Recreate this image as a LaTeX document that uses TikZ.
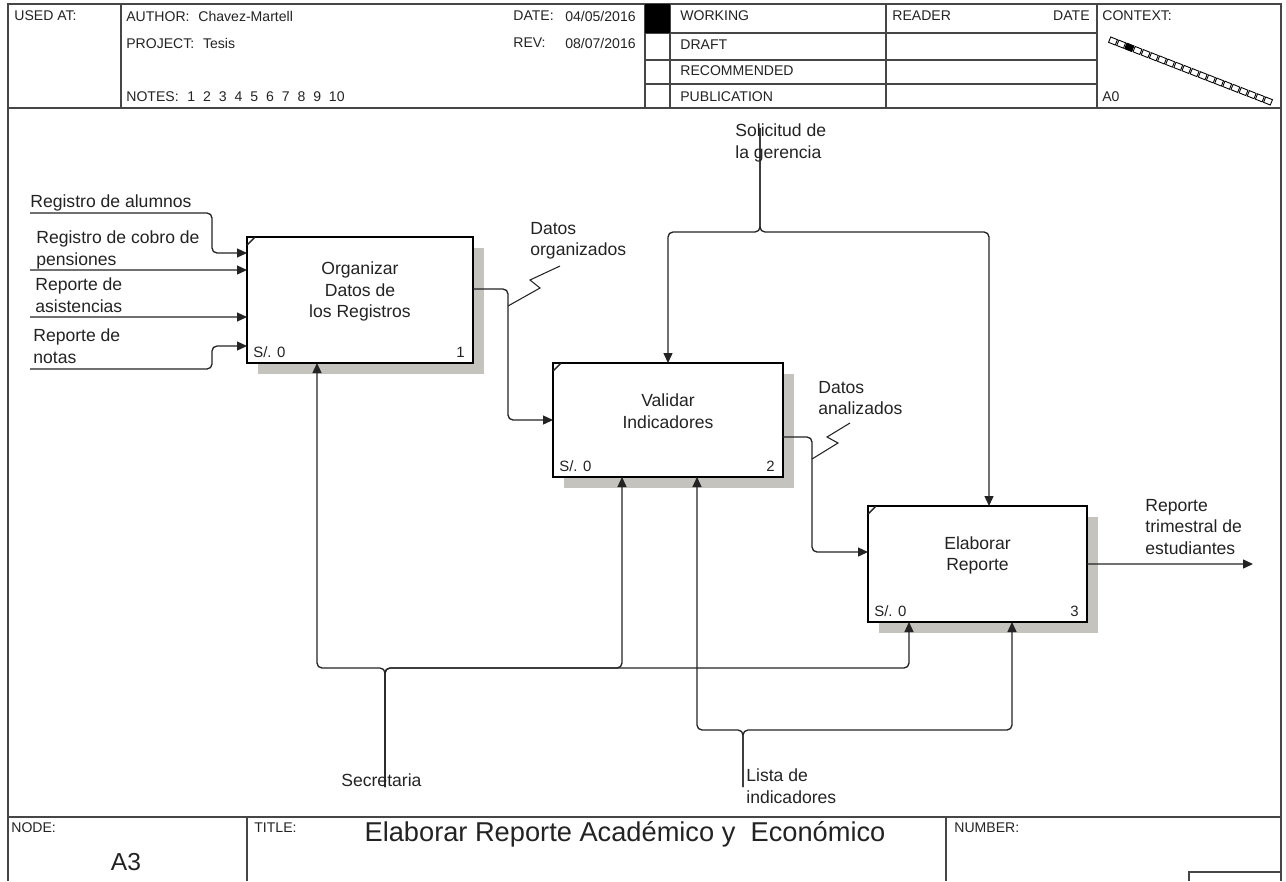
\documentclass[tikz,border=0pt]{standalone}
\usepackage{fontspec}
\setmainfont{Liberation Sans}
\usetikzlibrary{arrows.meta,calc,shadows}
\definecolor{shadowgray}{RGB}{196,195,190}
\definecolor{ink}{RGB}{35,35,35}
\definecolor{rule}{RGB}{70,70,70}
\begin{document}
\begin{tikzpicture}[x=0.2mm,y=-0.2mm,
  frame/.style={draw=rule, line width=1pt},
  cell/.style={draw=rule, line width=0.8pt},
  hdr/.style={font=\fontsize{8}{9.6}\selectfont, inner sep=0, anchor=west, text=ink},
  hdrr/.style={hdr, anchor=east},
  lbl/.style={font=\fontsize{10}{12.2}\selectfont, align=left, inner sep=0, anchor=west, text=ink},
  ptext/.style={font=\fontsize{10}{12.2}\selectfont, align=center, inner sep=0, text=ink},
  ptag/.style={font=\fontsize{8.5}{10}\selectfont, inner sep=0, text=ink},
  proc/.style={draw=black, line width=1.2pt, fill=white, inner sep=0, outer sep=0,
    drop shadow={shadow xshift=2.2mm, shadow yshift=-2.2mm, fill=shadowgray, opacity=1}},
  flow/.style={draw=ink, line width=0.75pt, rounded corners=1mm,
    -{Triangle[length=2mm,width=1.8mm]}},
  squig/.style={draw=ink, line width=0.6pt},
  ctxsq/.style={draw=black, line width=0.5pt, fill=white, inner sep=0,
    minimum width=1.45mm, minimum height=1.15mm, rotate=-22},
]
\useasboundingbox (0,0) rectangle (1286,881);

% ---------- outer frame and form rules ----------
\draw[frame] (8,881) -- (8,4) -- (1281,4) -- (1281,881);
\draw[frame] (8,108) -- (1281,108);
\draw[frame] (8,817) -- (1281,817);
\foreach \cx in {121,645,670,886,1097} \draw[cell] (\cx,4) -- (\cx,108);
\foreach \cy in {33,60,84} \draw[cell] (645,\cy) -- (1097,\cy);
\fill[black] (645,4) rectangle (670,33);
\draw[cell] (247,817) -- (247,881);
\draw[cell] (946,817) -- (946,881);
\draw[cell] (1189,881) -- (1189,872) -- (1281,872);

% ---------- header texts ----------
\node[hdr] (usedat) at (14,16) {USED AT:};
\node[hdr] (author) at (126,16) {AUTHOR:\hspace{5pt}Chavez-Martell};
\node[hdr] (project) at (126,43) {PROJECT:\hspace{5pt}Tesis};
\node[hdr] (notes) at (126,97) {NOTES:\hspace{5pt}1\hspace{4.5pt}2\hspace{4.5pt}3\hspace{4.5pt}4\hspace{4.5pt}5\hspace{4.5pt}6\hspace{4.5pt}7\hspace{4.5pt}8\hspace{4.5pt}9\hspace{4.5pt}10};
\node[hdr] (datel) at (513,16) {DATE:};
\node[hdrr] (datev) at (636,16) {04/05/2016};
\node[hdr] (revl) at (513,43) {REV:};
\node[hdrr] (revv) at (636,43) {08/07/2016};
\node[hdr] (working) at (680,16) {WORKING};
\node[hdr] (draft) at (680,45) {DRAFT};
\node[hdr] (recom) at (680,71) {RECOMMENDED};
\node[hdr] (public) at (680,97) {PUBLICATION};
\node[hdr] (reader) at (892,16) {READER};
\node[hdrr] (rdate) at (1090,16) {DATE};
\node[hdr] (context) at (1102,16) {CONTEXT:};
\node[hdr] (a0) at (1102,97) {A0};

% context chain of diagram squares
\foreach \i in {0,...,19} {
  \node[ctxsq] (sq\i) at ({1113+155*\i/19},{41+60*\i/19}) {};
}
\node[ctxsq, fill=black] (sqcur) at ({1113+155*2/19},{41+60*2/19}) {};

% ---------- footer texts ----------
\node[hdr] (nodel) at (11,828) {NODE:};
\node[font=\fontsize{14}{16}\selectfont, inner sep=0, text=ink] (nodev) at (126,862) {A3};
\node[hdr] (titlel) at (254,828) {TITLE:};
\node[font=\fontsize{15.5}{18}\selectfont, inner sep=0, text=ink] (titlev) at (625,834) {Elaborar Reporte Académico y\ \ Económico};
\node[hdr] (numberl) at (954,828) {NUMBER:};

% ---------- activity boxes ----------
\node[proc, minimum width=45.2mm, minimum height=25.2mm] (b1) at (360,300) {};
\node[proc, minimum width=46mm, minimum height=22.8mm] (b2) at (668,420) {};
\node[proc, minimum width=43.8mm, minimum height=23.2mm] (b3) at (977.5,564) {};

\node[ptext] (b1-t) at (360,291.5) {Organizar\\Datos de\\los Registros};
\node[ptext] (b2-t) at (668,411) {Validar\\Indicadores};
\node[ptext] (b3-t) at (977.5,555.5) {Elaborar\\Reporte};

\foreach \b/\n in {b1/1,b2/2,b3/3} {
  \draw[ink, line width=0.8pt] ($(\b.north west)+(0,8)$) -- ($(\b.north west)+(8,0)$);
  \node[ptag, anchor=west] (\b-cost) at ($(\b.south west)+(6,-11)$) {S/. 0};
  \node[ptag, anchor=east] (\b-num) at ($(\b.south east)+(-8,-11)$) {\n};
}

% ---------- arrow labels ----------
\node[lbl] (l-alum) at (30,203) {Registro de alumnos};
\node[lbl] (l-cobro) at (36,250) {Registro de cobro de\\pensiones};
\node[lbl] (l-asist) at (35,295) {Reporte de\\asistencias};
\node[lbl] (l-notas) at (33,346) {Reporte de\\notas};
\node[lbl] (l-dorg) at (530,241) {Datos\\organizados};
\node[lbl] (l-dana) at (818,398) {Datos\\analizados};
\node[lbl] (l-solic) at (735,143) {Solicitud de\\la gerencia};
\node[lbl] (l-rep) at (1145,527) {Reporte\\trimestral de\\estudiantes};
\node[lbl] (l-secr) at (341,780) {Secretaria};
\node[lbl] (l-lista) at (746,786) {Lista de\\indicadores};

% ---------- free ends of boundary arrows ----------
\coordinate (in1) at (30,213);
\coordinate (in2) at (30,270);
\coordinate (in3) at (30,317);
\coordinate (in4) at (30,369);
\coordinate (ctl) at (760,128);
\coordinate (mec1) at (385,787);
\coordinate (mec2) at (743,787);
\coordinate (out) at (1253,564);

% inputs of box 1
\draw[flow] (in1) -- (212,213) -- (212,253) -- ($(b1.north west)+(0,16)$);
\draw[flow] (in2) -- ($(b1.north west)+(0,33)$);
\draw[flow] (in3) -- ($(b1.north west)+(0,80)$);
\draw[flow] (in4) -- (212,369) -- (212,346) -- ($(b1.north west)+(0,109)$);

% box 1 -> box 2
\draw[flow] ($(b1.north east)+(0,52)$) -- (508,289) -- (508,420) -- ($(b2.north west)+(0,57)$);
\draw[squig] (508,306) -- (540,288) -- (530,280) -- (560,266);

% box 2 -> box 3
\draw[flow] ($(b2.north east)+(0,74)$) -- (812,437) -- (812,552) -- ($(b3.north west)+(0,46)$);
\draw[squig] (812,459) -- (838,443) -- (827,437) -- (850,423);

% output of box 3
\draw[flow] ($(b3.north east)+(0,58)$) -- (out);

% control: Solicitud de la gerencia
\draw[flow] (ctl) -- (760,232) -- (668,232) -- ($(b2.north west)+(115,0)$);
\draw[flow] (ctl) -- (760,232) -- (989,232) -- ($(b3.north west)+(121,0)$);

% mechanism: Secretaria
\draw[flow] (mec1) -- (385,668) -- (317,668) -- ($(b1.south west)+(70,0)$);
\draw[flow] (mec1) -- (385,668) -- (622,668) -- ($(b2.south west)+(69,0)$);
\draw[flow] (mec1) -- (385,668) -- (909,668) -- ($(b3.south west)+(41,0)$);

% mechanism: Lista de indicadores
\draw[flow] (mec2) -- (743,730) -- (697,730) -- ($(b2.south west)+(144,0)$);
\draw[flow] (mec2) -- (743,730) -- (1012,730) -- ($(b3.south west)+(144,0)$);
\end{tikzpicture}
\end{document}
